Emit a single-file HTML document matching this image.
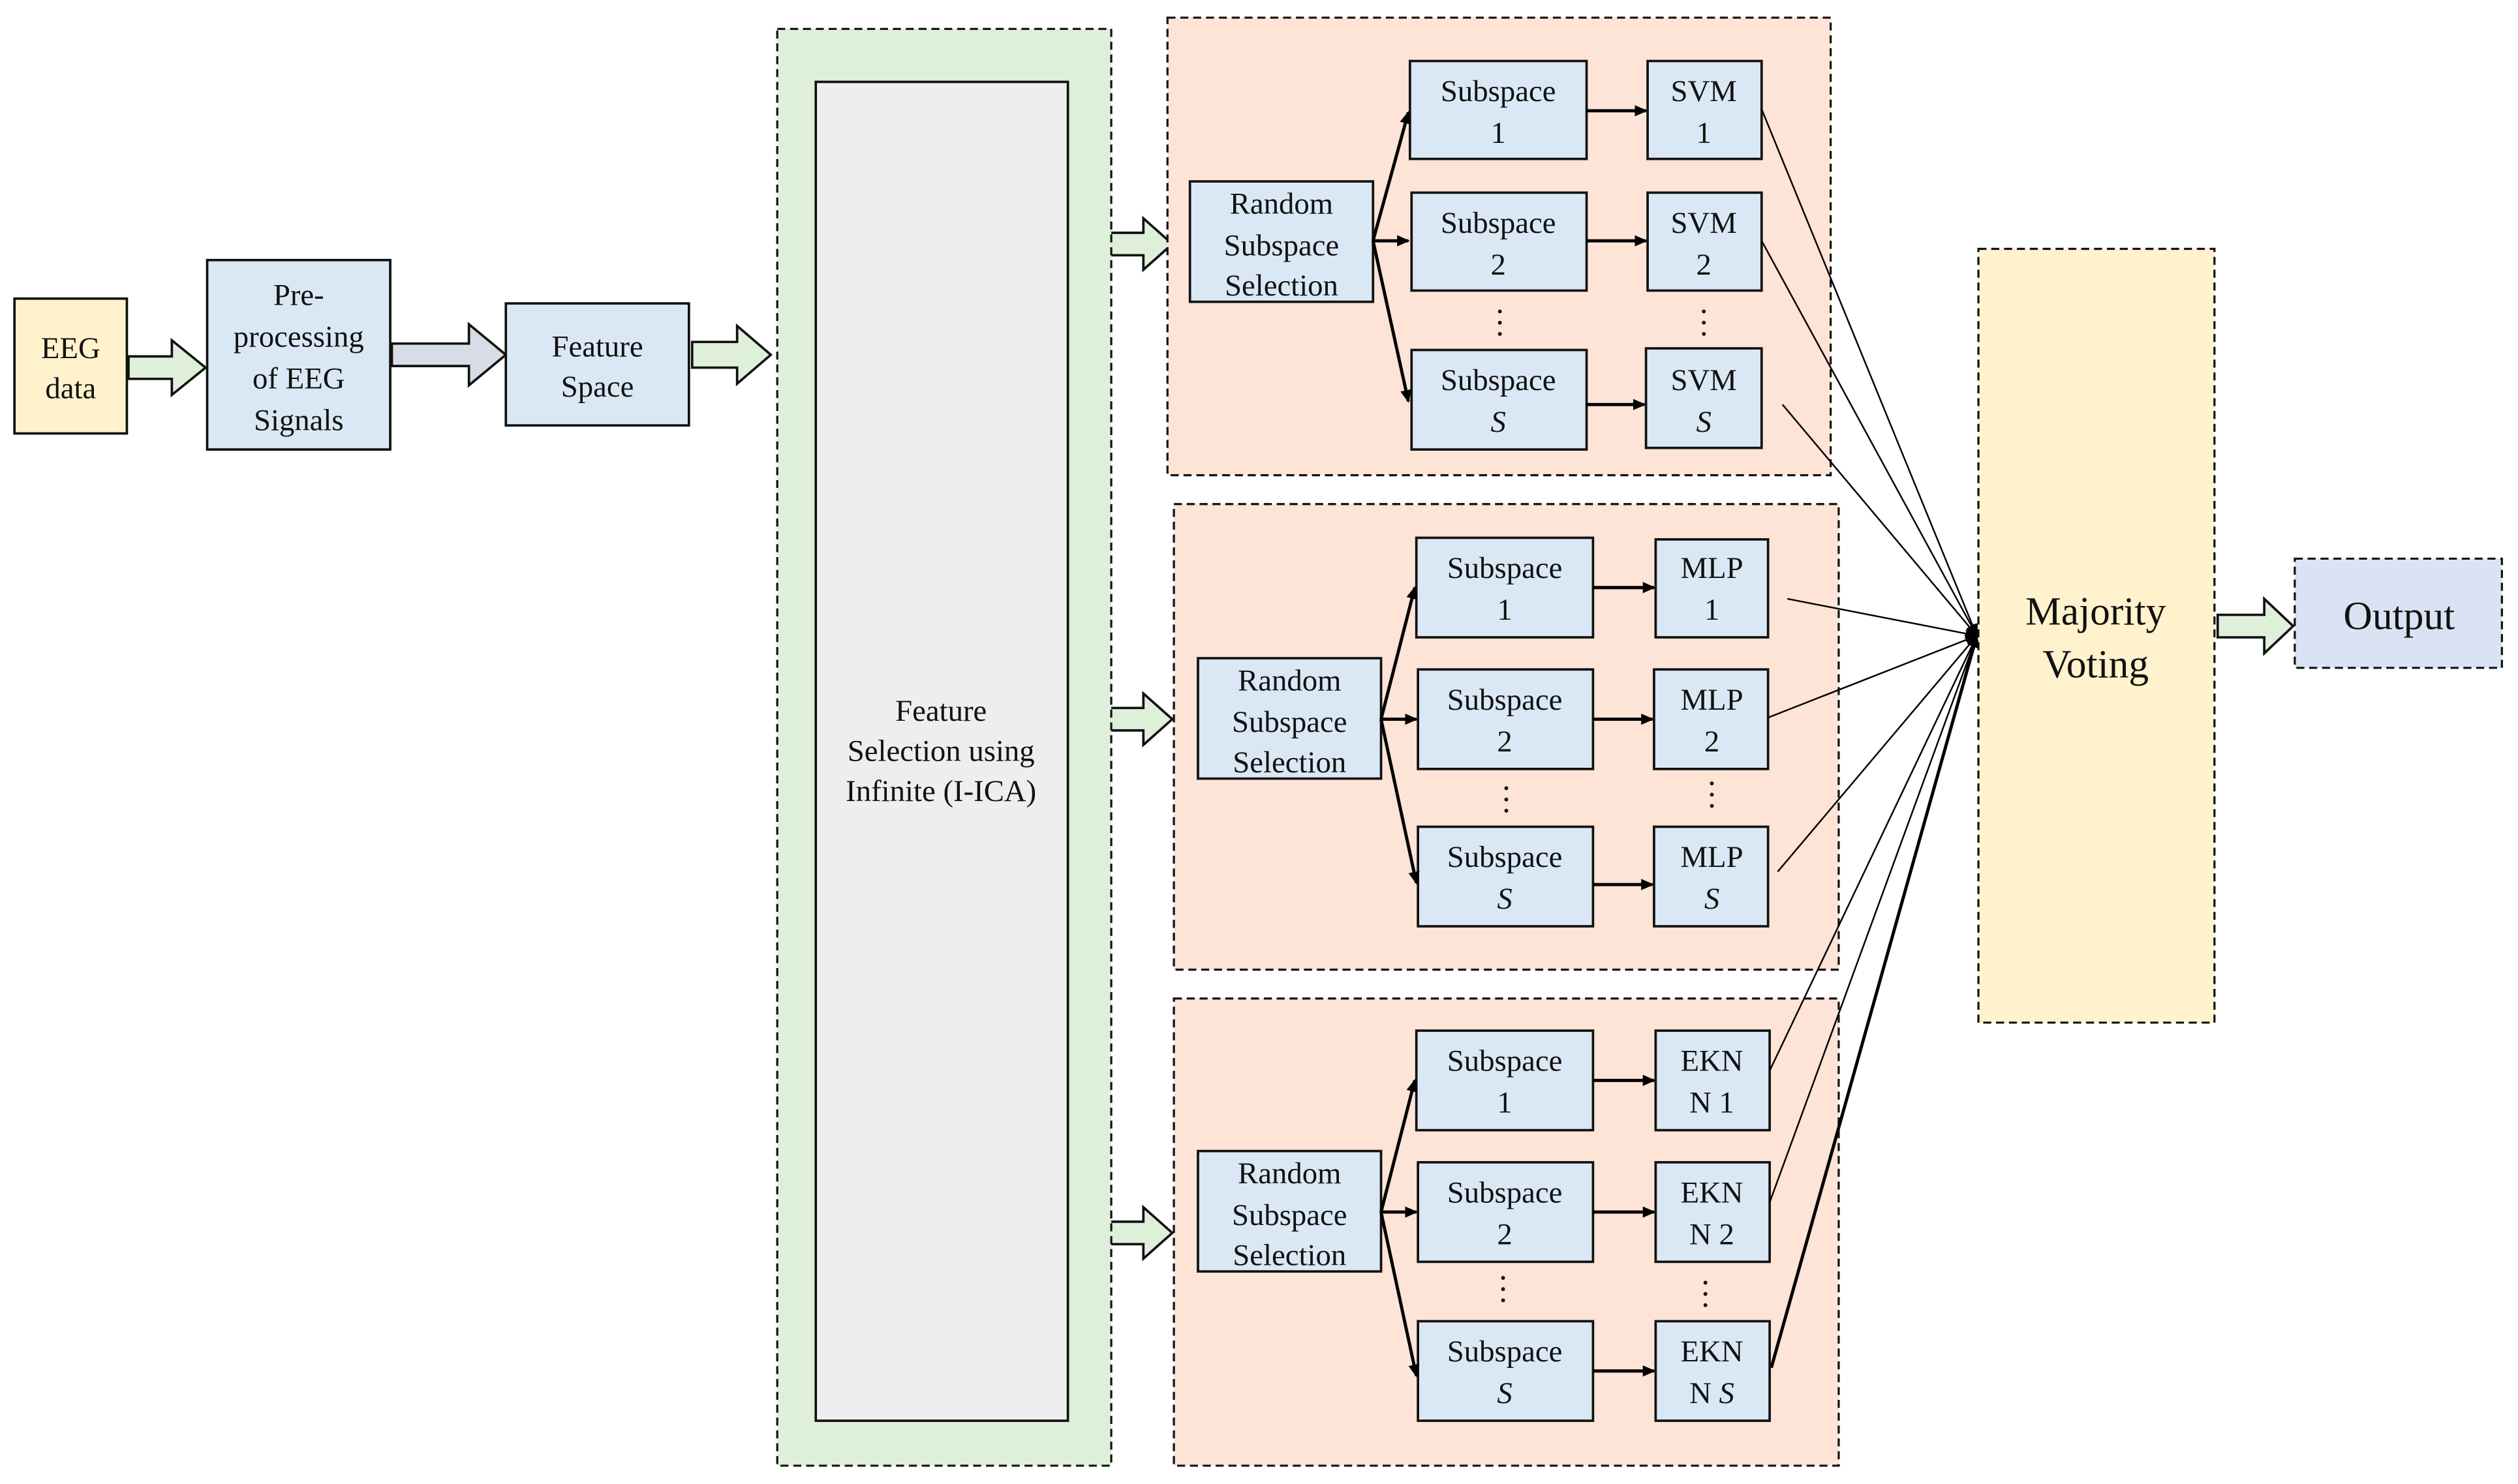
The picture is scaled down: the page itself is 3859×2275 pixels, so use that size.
<!DOCTYPE html>
<html><head><meta charset="utf-8"><style>
html,body{margin:0;padding:0;background:#fff;}
svg{display:block;}
text{font-family:"Liberation Serif",serif;fill:#111;}
</style></head><body>
<svg xmlns="http://www.w3.org/2000/svg" width="3859" height="2275" viewBox="0 0 1568 924.4">
<defs>
<marker id="ah" markerWidth="8" markerHeight="8" refX="7" refY="4" orient="auto" markerUnits="userSpaceOnUse">
<path d="M0,0.5 L8,4 L0,7.5 Z" fill="#000"/></marker>
<marker id="ah2" markerWidth="10" markerHeight="10" refX="9" refY="5" orient="auto" markerUnits="userSpaceOnUse">
<path d="M0,1 L10,5 L0,9 Z" fill="#000"/></marker>
</defs>
<rect width="1568" height="924.4" fill="#fff"/>

<!-- EEG data -->
<rect x="9" y="186" width="70" height="84" fill="#fff2cc" stroke="#111" stroke-width="1.5"/>
<text x="44" y="223" font-size="19" text-anchor="middle">EEG</text>
<text x="44" y="248" font-size="19" text-anchor="middle">data</text>

<!-- block arrows -->
<g stroke="#111" stroke-width="1.5" fill="#dff0da">
<path d="M80,222 H107 V212 L128,229 L107,246 V236 H80 Z"/>
<path d="M244,214 H292 V202 L315,221 L292,240 V228 H244 Z" fill="#d6dde6"/>
<path d="M431,213 H459 V203 L480,221 L459,239 V229 H431 Z"/>
<path d="M690,145 H712 V136 L730,152 L712,168 V159 H690 Z"/>
<path d="M690,441 H712 V432 L730,448 L712,464 V455 H690 Z"/>
<path d="M690,761 H712 V752 L730,768 L712,784 V775 H690 Z"/>
<path d="M1381,383 H1410 V373 L1428,390 L1410,407 V397 H1381 Z"/>
</g>

<!-- Pre-processing -->
<rect x="129" y="162" width="114" height="118" fill="#dae8f5" stroke="#111" stroke-width="1.5"/>
<text font-size="19" text-anchor="middle"><tspan x="186" y="190">Pre-</tspan><tspan x="186" y="216">processing</tspan><tspan x="186" y="242">of EEG</tspan><tspan x="186" y="268">Signals</tspan></text>

<!-- Feature Space -->
<rect x="315" y="189" width="114" height="76" fill="#dae8f5" stroke="#111" stroke-width="1.5"/>
<text font-size="19" text-anchor="middle"><tspan x="372" y="222">Feature</tspan><tspan x="372" y="247">Space</tspan></text>

<!-- Feature selection panel -->
<rect x="484" y="18" width="208" height="895" fill="#dff0da" stroke="#111" stroke-width="1.3" stroke-dasharray="5,3"/>
<rect x="508" y="51" width="157" height="834" fill="#eeeeee" stroke="#111" stroke-width="1.5"/>
<text font-size="19" text-anchor="middle"><tspan x="586" y="449">Feature</tspan><tspan x="586" y="474">Selection using</tspan><tspan x="586" y="499">Infinite (I-ICA)</tspan></text>

<!-- Panels -->
<g fill="#fde4d6" stroke="#111" stroke-width="1.3" stroke-dasharray="5,3">
<rect x="727" y="11" width="413" height="285"/>
<rect x="731" y="314" width="414" height="290"/>
<rect x="731" y="622" width="414" height="291"/>
</g>

<!-- Majority voting & output -->
<rect x="1232" y="155" width="147" height="482" fill="#fff2cc" stroke="#111" stroke-width="1.3" stroke-dasharray="5,3"/>
<text font-size="25" text-anchor="middle"><tspan x="1305" y="389">Majority</tspan><tspan x="1305" y="422">Voting</tspan></text>
<rect x="1429" y="348" width="129" height="68" fill="#dae3f3" stroke="#111" stroke-width="1.3" stroke-dasharray="5,3"/>
<text x="1494" y="392" font-size="25" text-anchor="middle">Output</text>

<!-- Panel 1 -->
<g stroke="#111" stroke-width="1.5" fill="#dae8f5">
<rect x="741" y="113" width="114" height="75"/>
<rect x="878" y="38" width="110" height="61"/>
<rect x="879" y="120" width="109" height="61"/>
<rect x="879" y="218" width="109" height="62"/>
<rect x="1026" y="38" width="71" height="61"/>
<rect x="1026" y="120" width="71" height="61"/>
<rect x="1025" y="217" width="72" height="62"/>
<!-- panel 2 -->
<rect x="746" y="410" width="114" height="75"/>
<rect x="882" y="335" width="110" height="62"/>
<rect x="883" y="417" width="109" height="62"/>
<rect x="883" y="515" width="109" height="62"/>
<rect x="1031" y="336" width="70" height="61"/>
<rect x="1030" y="417" width="71" height="62"/>
<rect x="1030" y="515" width="71" height="62"/>
<!-- panel 3 -->
<rect x="746" y="717" width="114" height="75"/>
<rect x="882" y="642" width="110" height="62"/>
<rect x="883" y="724" width="109" height="62"/>
<rect x="883" y="823" width="109" height="62"/>
<rect x="1031" y="642" width="71" height="62"/>
<rect x="1031" y="724" width="71" height="62"/>
<rect x="1031" y="823" width="71" height="62"/>
</g>

<g font-size="19" text-anchor="middle">
<text><tspan x="798" y="133">Random</tspan><tspan x="798" y="159">Subspace</tspan><tspan x="798" y="184">Selection</tspan></text>
<text><tspan x="933" y="63">Subspace</tspan><tspan x="933" y="89">1</tspan></text>
<text><tspan x="933" y="145">Subspace</tspan><tspan x="933" y="171">2</tspan></text>
<text><tspan x="933" y="243">Subspace</tspan><tspan x="933" y="269" font-style="italic">S</tspan></text>
<text><tspan x="1061" y="63">SVM</tspan><tspan x="1061" y="89">1</tspan></text>
<text><tspan x="1061" y="145">SVM</tspan><tspan x="1061" y="171">2</tspan></text>
<text><tspan x="1061" y="243">SVM</tspan><tspan x="1061" y="269" font-style="italic">S</tspan></text>

<text><tspan x="803" y="430">Random</tspan><tspan x="803" y="456">Subspace</tspan><tspan x="803" y="481">Selection</tspan></text>
<text><tspan x="937" y="360">Subspace</tspan><tspan x="937" y="386">1</tspan></text>
<text><tspan x="937" y="442">Subspace</tspan><tspan x="937" y="468">2</tspan></text>
<text><tspan x="937" y="540">Subspace</tspan><tspan x="937" y="566" font-style="italic">S</tspan></text>
<text><tspan x="1066" y="360">MLP</tspan><tspan x="1066" y="386">1</tspan></text>
<text><tspan x="1066" y="442">MLP</tspan><tspan x="1066" y="468">2</tspan></text>
<text><tspan x="1066" y="540">MLP</tspan><tspan x="1066" y="566" font-style="italic">S</tspan></text>

<text><tspan x="803" y="737">Random</tspan><tspan x="803" y="763">Subspace</tspan><tspan x="803" y="788">Selection</tspan></text>
<text><tspan x="937" y="667">Subspace</tspan><tspan x="937" y="693">1</tspan></text>
<text><tspan x="937" y="749">Subspace</tspan><tspan x="937" y="775">2</tspan></text>
<text><tspan x="937" y="848">Subspace</tspan><tspan x="937" y="874" font-style="italic">S</tspan></text>
<text><tspan x="1066" y="667">EKN</tspan><tspan x="1066" y="693">N 1</tspan></text>
<text><tspan x="1066" y="749">EKN</tspan><tspan x="1066" y="775">N 2</tspan></text>
<text><tspan x="1066" y="848">EKN</tspan><tspan x="1066" y="874">N <tspan font-style="italic">S</tspan></tspan></text>
</g>

<!-- vertical dots -->
<g fill="#111">
<circle cx="934" cy="194" r="1.2"/><circle cx="934" cy="201" r="1.2"/><circle cx="934" cy="208" r="1.2"/>
<circle cx="1061" cy="194" r="1.2"/><circle cx="1061" cy="201" r="1.2"/><circle cx="1061" cy="208" r="1.2"/>
<circle cx="938" cy="491" r="1.2"/><circle cx="938" cy="498" r="1.2"/><circle cx="938" cy="505" r="1.2"/>
<circle cx="1066" cy="488" r="1.2"/><circle cx="1066" cy="495" r="1.2"/><circle cx="1066" cy="502" r="1.2"/>
<circle cx="936" cy="796" r="1.2"/><circle cx="936" cy="803" r="1.2"/><circle cx="936" cy="810" r="1.2"/>
<circle cx="1062" cy="799" r="1.2"/><circle cx="1062" cy="806" r="1.2"/><circle cx="1062" cy="813" r="1.2"/>
</g>

<!-- internal arrows -->
<g stroke="#000" stroke-width="2" marker-end="url(#ah)" fill="none">
<line x1="855" y1="150" x2="877" y2="70"/>
<line x1="855" y1="150" x2="877" y2="150"/>
<line x1="855" y1="150" x2="877" y2="250"/>
<line x1="988" y1="69" x2="1025" y2="69"/>
<line x1="988" y1="150" x2="1025" y2="150"/>
<line x1="988" y1="252" x2="1024" y2="252"/>

<line x1="860" y1="448" x2="881" y2="366"/>
<line x1="860" y1="448" x2="882" y2="448"/>
<line x1="860" y1="448" x2="882" y2="550"/>
<line x1="992" y1="366" x2="1030" y2="366"/>
<line x1="992" y1="448" x2="1029" y2="448"/>
<line x1="992" y1="551" x2="1029" y2="551"/>

<line x1="860" y1="755" x2="881" y2="673"/>
<line x1="860" y1="755" x2="882" y2="755"/>
<line x1="860" y1="755" x2="882" y2="857"/>
<line x1="992" y1="673" x2="1030" y2="673"/>
<line x1="992" y1="755" x2="1030" y2="755"/>
<line x1="992" y1="854" x2="1030" y2="854"/>
</g>

<!-- voting lines -->
<g stroke="#000" stroke-width="1" fill="none" marker-end="url(#ah)">
<line x1="1097" y1="68" x2="1231" y2="396"/>
<line x1="1097" y1="150" x2="1231" y2="396"/>
<line x1="1110" y1="252" x2="1231" y2="396"/>
<line x1="1113" y1="373" x2="1231" y2="396"/>
<line x1="1101" y1="447" x2="1231" y2="396"/>
<line x1="1107" y1="543" x2="1231" y2="396"/>
<line x1="1102" y1="667" x2="1231" y2="396"/>
<line x1="1102" y1="749" x2="1231" y2="396"/>
<line x1="1103" y1="852" x2="1231" y2="396" stroke-width="2"/>
</g>
</svg>
</body></html>
